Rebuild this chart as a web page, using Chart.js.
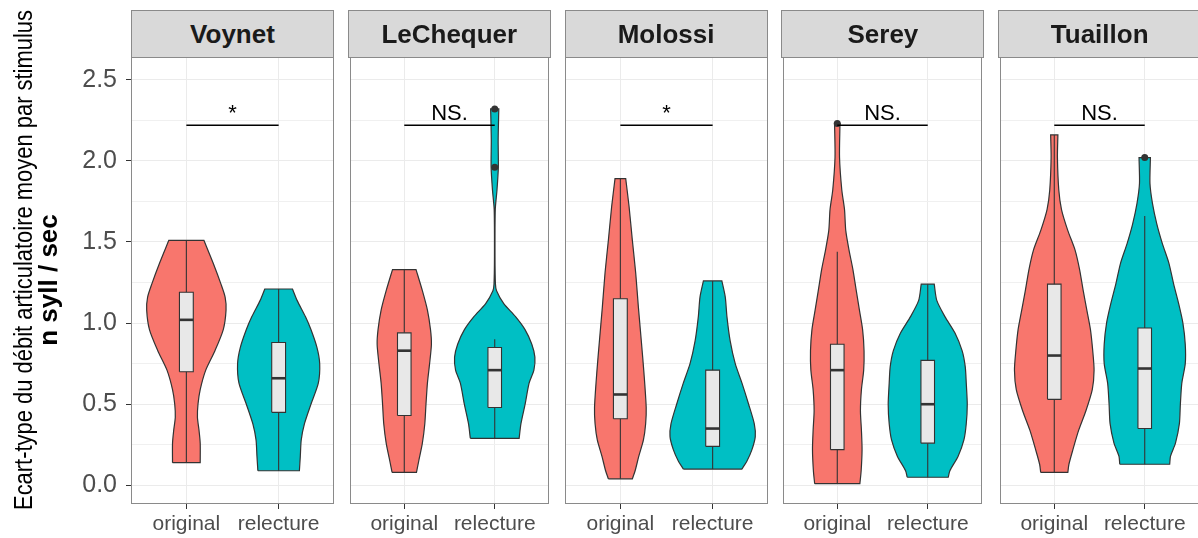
<!DOCTYPE html>
<html>
<head>
<meta charset="utf-8">
<script src="https://cdn.jsdelivr.net/npm/chart.js@4.4.1/dist/chart.umd.min.js"></script>
<style>
  body { margin: 0; background: #fff; width: 1198px; height: 538px; overflow: hidden; position: relative;
         font-family: 'Liberation Sans', Arial, sans-serif; }
  canvas { position: absolute; top: 0; }
  .strip { position: absolute; top: 10px; height: 48px; width: 203px; box-sizing: border-box; z-index: 2;
           background: #d9d9d9; border: 1px solid #8a8a8a; display: flex; align-items: center;
           justify-content: center; font-weight: bold; font-size: 26px; color: #1a1a1a; }
</style>
</head>
<body>
<script>
// facets, groups and labels
const speakers = ['Voynet', 'LeChequer', 'Molossi', 'Serey', 'Tuaillon'];
const conditions = ['original', 'relecture'];
const sigLabels = ['*', 'NS.', '*', 'NS.', 'NS.'];
const sigHeight = [2.22, 2.22, 2.22, 2.22, 2.22];
const yTicks = [0, 0.5, 1, 1.5, 2, 2.5];
const yMinorTicks = [0.25, 0.75, 1.25, 1.75, 2.25];
const yTitleLines = ['Ecart-type du débit articulatoire moyen par stimulus', 'n syll / sec'];

// violin outlines: levels (top -> bottom) and half widths
const voynetOriginalY = [1.51, 1.37, 1.24, 1.16, 1.08, 0.96, 0.83, 0.71, 0.59, 0.50, 0.42, 0.34, 0.26, 0.14];
const voynetOriginalW = [0.19, 0.29, 0.375, 0.42, 0.43, 0.40, 0.31, 0.21, 0.15, 0.126, 0.12, 0.137, 0.15, 0.15];
const voynetRelectureY = [1.21, 1.14, 1.04, 0.96, 0.85, 0.75, 0.63, 0.50, 0.38, 0.28, 0.18, 0.09];
const voynetRelectureW = [0.15, 0.20, 0.29, 0.35, 0.415, 0.445, 0.43, 0.35, 0.28, 0.245, 0.235, 0.225];
const lechequerOriginalY = [1.33, 1.20, 1.08, 0.96, 0.87, 0.75, 0.63, 0.50, 0.38, 0.26, 0.15, 0.08];
const lechequerOriginalW = [0.13, 0.20, 0.256, 0.29, 0.30, 0.28, 0.256, 0.24, 0.227, 0.20, 0.16, 0.135];
const lechequerRelectureY = [2.32, 2.13, 1.96, 1.82, 1.70, 1.41, 1.24, 1.20, 1.12, 1.04, 0.96, 0.87, 0.79, 0.71, 0.63, 0.50, 0.38, 0.29];
const lechequerRelectureW = [0.045, 0.038, 0.04, 0.025, 0.006, 0.003, 0.008, 0.02, 0.10, 0.23, 0.335, 0.41, 0.444, 0.433, 0.38, 0.336, 0.29, 0.27];
const molossiOriginalY = [1.89, 1.72, 1.51, 1.31, 1.10, 0.89, 0.69, 0.48, 0.38, 0.28, 0.18, 0.09, 0.04];
const molossiOriginalW = [0.058, 0.094, 0.13, 0.166, 0.195, 0.227, 0.256, 0.28, 0.274, 0.25, 0.20, 0.16, 0.13];
const molossiRelectureY = [1.26, 1.16, 1.04, 0.89, 0.75, 0.63, 0.50, 0.38, 0.30, 0.22, 0.15, 0.10];
const molossiRelectureW = [0.10, 0.137, 0.155, 0.19, 0.245, 0.318, 0.39, 0.451, 0.462, 0.426, 0.372, 0.316];
const sereyOriginalY = [2.23, 2.02, 1.82, 1.70, 1.57, 1.45, 1.33, 1.20, 1.08, 0.96, 0.83, 0.71, 0.59, 0.46, 0.34, 0.22, 0.09, 0.01];
const sereyOriginalW = [0.03, 0.025, 0.05, 0.08, 0.094, 0.13, 0.173, 0.21, 0.245, 0.28, 0.296, 0.292, 0.267, 0.256, 0.267, 0.274, 0.264, 0.25];
const sereyRelectureY = [1.24, 1.14, 1.04, 0.94, 0.83, 0.73, 0.63, 0.50, 0.38, 0.28, 0.18, 0.09, 0.05];
const sereyRelectureW = [0.072, 0.10, 0.19, 0.30, 0.38, 0.415, 0.426, 0.437, 0.426, 0.40, 0.336, 0.245, 0.227];
const tuaillonOriginalY = [2.16, 2.02, 1.82, 1.70, 1.57, 1.45, 1.33, 1.20, 1.08, 0.96, 0.83, 0.71, 0.59, 0.46, 0.34, 0.22, 0.13, 0.08];
const tuaillonOriginalW = [0.04, 0.035, 0.05, 0.08, 0.15, 0.23, 0.28, 0.32, 0.36, 0.40, 0.425, 0.44, 0.42, 0.35, 0.27, 0.206, 0.162, 0.15];
const tuaillonRelectureY = [2.02, 1.86, 1.74, 1.61, 1.49, 1.37, 1.24, 1.12, 1.00, 0.87, 0.75, 0.63, 0.50, 0.38, 0.26, 0.18, 0.13];
const tuaillonRelectureW = [0.063, 0.058, 0.085, 0.134, 0.195, 0.267, 0.32, 0.375, 0.422, 0.448, 0.448, 0.41, 0.394, 0.383, 0.34, 0.285, 0.276];

// boxplot stats, order: speaker x condition
const boxQ1 = [0.70, 0.45, 0.43, 0.48, 0.41, 0.24, 0.22, 0.26, 0.53, 0.35];
const boxMedian = [1.02, 0.66, 0.83, 0.71, 0.56, 0.35, 0.71, 0.50, 0.80, 0.72];
const boxQ3 = [1.19, 0.88, 0.94, 0.85, 1.15, 0.71, 0.87, 0.77, 1.24, 0.97];
const whiskerLow = [0.14, 0.09, 0.08, 0.29, 0.04, 0.10, 0.01, 0.05, 0.08, 0.13];
const whiskerHigh = [1.51, 1.21, 1.33, 0.90, 1.89, 1.26, 1.44, 1.24, 2.16, 1.66];
const outliers = [[], [], [], [2.32, 1.96], [], [], [2.23], [], [], [2.02]];

const violinY = [
  [voynetOriginalY, voynetRelectureY], [lechequerOriginalY, lechequerRelectureY],
  [molossiOriginalY, molossiRelectureY], [sereyOriginalY, sereyRelectureY],
  [tuaillonOriginalY, tuaillonRelectureY]
];
const violinW = [
  [voynetOriginalW, voynetRelectureW], [lechequerOriginalW, lechequerRelectureW],
  [molossiOriginalW, molossiRelectureW], [sereyOriginalW, sereyRelectureW],
  [tuaillonOriginalW, tuaillonRelectureW]
];

// layout + styles
const PANEL_X0 = 131, PANEL_STEP = 216.8, PANEL_W = 203;
const fills = ['#F8766D', '#00BFC4'];
const LINE = '#333333';
const BOX_HALF = 0.075;
const FONT = "'Liberation Sans', Arial, sans-serif";

// closed outline: left side bottom->top then right side top->bottom
// end points doubled so the spline keeps the flat top/bottom corners sharp
function violinPoints(center, ys, ws) {
  const left = ys.map((y, k) => ({x: center - ws[k], y: y})).reverse();
  const right = ys.map((y, k) => ({x: center + ws[k], y: y}));
  const dup = arr => [arr[0]].concat(arr, [arr[arr.length - 1]]);
  return dup(left).concat(dup(right), [left[0]]);
}

function boxPoints(center, k) {
  return [
    {x: center - BOX_HALF, y: boxQ1[k]}, {x: center - BOX_HALF, y: boxQ3[k]},
    {x: center + BOX_HALF, y: boxQ3[k]}, {x: center + BOX_HALF, y: boxQ1[k]},
    {x: center - BOX_HALF, y: boxQ1[k]}
  ];
}

// frame around each panel, plus the significance label
const panelFrame = {
  id: 'panelFrame',
  afterDatasetsDraw(chart, args, opts) {
    const {ctx, chartArea: a, scales} = chart;
    const i = opts.index;
    ctx.save();
    ctx.font = '22px ' + FONT;
    ctx.fillStyle = '#000';
    ctx.textAlign = 'center';
    ctx.textBaseline = 'alphabetic';
    ctx.fillText(sigLabels[i], scales.x.getPixelForValue(1.5), scales.y.getPixelForValue(sigHeight[i]) - 5);
    ctx.strokeStyle = '#8a8a8a';
    ctx.lineWidth = 1;
    ctx.strokeRect(Math.round(a.left) + 0.5, Math.round(a.top) + 0.5, Math.round(a.width) - 1, Math.round(a.height) - 1);
    ctx.restore();
  }
};

// two-line y title (first line condensed like the original)
const yTitle = {
  id: 'yTitle',
  afterDraw(chart, args, opts) {
    if (!opts.show) return;
    const ctx = chart.ctx;
    ctx.save();
    ctx.translate(32, 260);
    ctx.rotate(-Math.PI / 2);
    ctx.font = '25px ' + FONT;
    const w = ctx.measureText(yTitleLines[0]).width;
    ctx.scale(500 / w, 1);
    ctx.textAlign = 'center';
    ctx.fillStyle = '#000';
    ctx.fillText(yTitleLines[0], 0, 0);
    ctx.restore();
    ctx.save();
    ctx.translate(57, 280);
    ctx.rotate(-Math.PI / 2);
    ctx.font = 'bold 26px ' + FONT;
    ctx.textAlign = 'center';
    ctx.fillStyle = '#000';
    ctx.fillText(yTitleLines[1], 0, 0);
    ctx.restore();
  }
};

speakers.forEach((name, i) => {
  const first = i === 0;
  const left = PANEL_X0 + i * PANEL_STEP;
  const canvas = document.createElement('canvas');
  canvas.width = first ? PANEL_X0 + PANEL_W + 2 : PANEL_W + 4;
  canvas.height = 538;
  canvas.style.left = (first ? 0 : left - 2) + 'px';
  document.body.appendChild(canvas);

  const datasets = [];
  conditions.forEach((cond, j) => {
    const k = i * 2 + j;
    const c = j + 1;
    datasets.push({data: violinPoints(c, violinY[i][j], violinW[i][j]), fill: 'shape',
      backgroundColor: fills[j], borderColor: LINE, borderWidth: 1.2, pointRadius: 0, tension: 0.25, order: 6});
    datasets.push({data: [{x: c, y: whiskerLow[k]}, {x: c, y: whiskerHigh[k]}], fill: false,
      borderColor: LINE, borderWidth: 1.1, pointRadius: 0, order: 5});
    datasets.push({data: boxPoints(c, k), fill: 'shape', backgroundColor: '#E8E8E8',
      borderColor: LINE, borderWidth: 1.1, pointRadius: 0, order: 4});
    datasets.push({data: [{x: c - BOX_HALF, y: boxMedian[k]}, {x: c + BOX_HALF, y: boxMedian[k]}], fill: false,
      borderColor: LINE, borderWidth: 2.6, pointRadius: 0, order: 3});
    if (outliers[k].length) {
      datasets.push({data: outliers[k].map(v => ({x: c, y: v})), showLine: false,
        pointRadius: 3.5, pointBackgroundColor: LINE, pointBorderWidth: 0, order: 2});
    }
  });
  datasets.push({data: [{x: 1, y: sigHeight[i]}, {x: 2, y: sigHeight[i]}], fill: false,
    borderColor: '#000', borderWidth: 1.5, pointRadius: 0, order: 1});

  new Chart(canvas, {
    type: 'line',
    data: {datasets: datasets},
    plugins: [panelFrame, yTitle],
    options: {
      responsive: false,
      animation: false,
      events: [],
      layout: {padding: {left: first ? 0 : 2, right: 2, top: 57, bottom: 0}},
      plugins: {
        legend: {display: false},
        tooltip: {enabled: false},
        panelFrame: {index: i},
        yTitle: {show: first}
      },
      scales: {
        x: {
          type: 'linear', min: 0.4, max: 2.6,
          afterBuildTicks: s => { s.ticks = [{value: 1}, {value: 2}]; },
          afterFit: s => { s.height = 34; },
          ticks: {callback: v => conditions[v - 1], color: '#4D4D4D', font: {family: FONT, size: 21},
                  padding: 3, maxRotation: 0, autoSkip: false},
          grid: {color: '#EBEBEB', tickColor: LINE, tickLength: 5, drawTicks: true},
          border: {display: false}
        },
        y: {
          type: 'linear', min: -0.115, max: 2.64,
          afterBuildTicks: s => { s.ticks = yTicks.concat(yMinorTicks).map(v => ({value: v})); },
          afterFit: s => { s.width = first ? PANEL_X0 : 0; },
          ticks: {display: first, callback: v => yTicks.includes(v) ? v.toFixed(1) : '',
                  color: '#4D4D4D', font: {family: FONT, size: 25}, padding: 9},
          grid: {
            color: c => yTicks.includes(c.tick.value) ? '#EBEBEB' : '#F0F0F0',
            tickColor: c => yTicks.includes(c.tick.value) ? LINE : 'rgba(0,0,0,0)',
            tickLength: 5, drawTicks: first
          },
          border: {display: false}
        }
      }
    }
  });

  const strip = document.createElement('div');
  strip.className = 'strip';
  strip.style.left = left + 'px';
  strip.textContent = name;
  document.body.appendChild(strip);
});
</script>
</body>
</html>
